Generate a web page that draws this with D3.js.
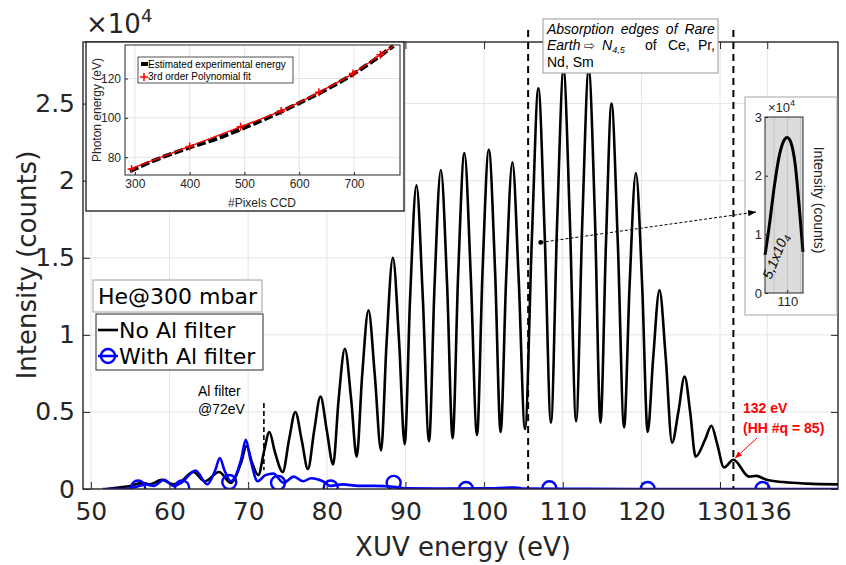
<!DOCTYPE html>
<html>
<head>
<meta charset="utf-8">
<script src="https://cdn.jsdelivr.net/npm/d3@7"></script>
<style>
  body { margin: 0; background: #fff; }
  svg { display: block; }
</style>
</head>
<body>
<svg id="svg" width="846" height="565"></svg>
<script>
// ---- main spectrum, He @ 300 mbar (intensity in units of 1e4 counts) ----
// valley / flank / peak / flank ...
const noFilterEnergy = [52, 53.5, 55, 56.5, 57.5, 59, 60.5, 61.5, 63, 64.5, 66.3, 67.8,
  69.1, 69.8, 70.5, 71.3, 72.0, 72.7, 73.4, 74.4, 75.2, 76.0, 76.8, 77.6, 78.4, 79.2, 80.0, 80.8,
  81.5, 82.3, 83.1, 83.8, 84.5, 85.3, 86.1, 86.9, 87.6, 88.4, 89.2, 89.9, 90.6, 91.4, 92.2, 93.0,
  93.7, 94.5, 95.3, 96.0, 96.7, 97.5, 98.3, 99.1, 99.8, 100.6, 101.4, 102.1, 102.8, 103.6, 104.4, 105.2,
  106.1, 106.9, 107.7, 108.5, 109.3, 110.1, 110.9, 111.7, 112.5, 113.3, 114.1, 114.8, 115.5, 116.2, 117.0, 117.8,
  118.5, 119.3, 120.1, 120.8, 121.5, 122.3, 123.1, 123.9, 124.7, 125.5, 126.2, 126.9, 128.1, 128.9, 129.6, 130.5,
  131.7, 133.7, 134.6, 135.9, 138, 141, 145];
const noFilterCounts = [0.0, 0.01, 0.02, 0.04, 0.03, 0.06, 0.03, 0.05, 0.11, 0.05, 0.11, 0.04,
  0.17, 0.28, 0.17, 0.09, 0.24, 0.37, 0.24, 0.11, 0.32, 0.50, 0.32, 0.13, 0.38, 0.60, 0.38, 0.16,
  0.58, 0.91, 0.58, 0.21, 0.74, 1.16, 0.74, 0.25, 0.95, 1.50, 0.95, 0.29, 1.25, 1.97, 1.25, 0.31,
  1.32, 2.07, 1.32, 0.33, 1.39, 2.18, 1.39, 0.35, 1.41, 2.20, 1.41, 0.37, 1.36, 2.12, 1.36, 0.39,
  1.66, 2.60, 1.66, 0.43, 1.75, 2.72, 1.75, 0.44, 1.75, 2.72, 1.75, 0.43, 1.60, 2.50, 1.60, 0.40,
  1.32, 2.05, 1.32, 0.37, 0.85, 1.29, 0.85, 0.30, 0.50, 0.73, 0.50, 0.21, 0.32, 0.41, 0.30, 0.14,
  0.19, 0.08, 0.085, 0.06, 0.045, 0.035, 0.03];

const alFilterEnergy = [51.5, 54, 55.5, 57, 58, 59.3, 60.5, 61.5, 63.3, 64.8, 65.8, 66.4, 67.0, 67.8, 69.1, 69.7, 70.3, 71.2, 72.2, 73.2,
  74.5, 75.8, 77, 78, 79.5, 80.5, 82, 84, 86, 88.5, 90, 95, 100, 104, 105, 110, 120, 130, 145];
const alFilterCounts = [0.0, 0.0, 0.01, 0.03, 0.02, 0.06, 0.02, 0.04, 0.12, 0.03, 0.12, 0.20, 0.12, 0.05, 0.19, 0.32, 0.19, 0.05, 0.09, 0.10,
  0.04, 0.08, 0.05, 0.07, 0.05, 0.02, 0.03, 0.02, 0.02, 0.015, 0.005, 0.003, 0.004, 0.01, 0.003, 0.002, 0.0, 0.0, 0.0];

const alMarkerEnergy = [56, 61.6, 67.6, 73.8, 80.5, 88.5, 97.7, 108.3, 120.8, 135.4];
const alMarkerCounts = [0.01, 0.01, 0.045, 0.04, 0.01, 0.04, 0.0, 0.005, 0.0, 0.0];

const xTicks = [50, 60, 70, 80, 90, 100, 110, 120, 130, 136];
const yTicks = [0, 0.5, 1, 1.5, 2, 2.5];
const edgeLines = [105.6, 131.7];
const filterEdge = 72;

// ---- inset: CCD pixel -> photon energy calibration ----
const ccdPixels = [291, 330, 350, 400, 450, 500, 550, 600, 650, 700, 750, 772];
const expEnergy = [73, 77.8, 80, 85, 89.5, 95, 101, 107.5, 114.5, 122.5, 132, 136.5];
const fitPixels = [291, 400, 493, 567, 636, 698, 748, 772];
const fitEnergy = [74, 85.5, 95.5, 103.5, 113, 122.5, 132, 136.5];
const fitMarkPixels = [294, 400, 493, 567, 636, 698, 748];
const fitMarkEnergy = [74, 85.5, 95.5, 103.5, 113, 122.5, 132];
const calXTicks = [300, 400, 500, 600, 700];
const calYTicks = [80, 100, 120];

// ---- inset: single harmonic around 110 eV ----
const zoomEnergy = [108.3, 108.6, 109.0, 109.4, 109.8, 110.0, 110.3, 110.6, 110.9, 111.2];
const zoomCounts = [0.65, 1.1, 1.8, 2.35, 2.62, 2.65, 2.55, 2.2, 1.5, 0.7];
const zoomXTicks = [109, 110, 111];
const zoomYTicks = [0, 1, 2, 3];

const DV = 'DejaVu Sans, sans-serif';
const AR = 'Liberation Sans, Arial, sans-serif';
const AX = '#262626';

const svg = d3.select('#svg');
const defs = svg.append('defs');

const x = d3.scaleLinear().domain([49, 145]).range([83, 838]);
const y = d3.scaleLinear().domain([0, 2.9]).range([489, 42]);

defs.append('clipPath').attr('id', 'plotClip')
  .append('rect').attr('x', 83).attr('y', 42).attr('width', 755).attr('height', 447);

// grid
const grid = svg.append('g').attr('stroke', '#e4e4e4').attr('stroke-width', 1);
grid.selectAll('.gx').data(xTicks).enter().append('line')
  .attr('x1', d => x(d)).attr('x2', d => x(d)).attr('y1', y(2.9)).attr('y2', y(0));
grid.selectAll('.gy').data(yTicks).enter().append('line')
  .attr('x1', x(49)).attr('x2', x(145)).attr('y1', d => y(d)).attr('y2', d => y(d));

// curves
const plot = svg.append('g').attr('clip-path', 'url(#plotClip)');
const line = d3.line().x(d => x(d[0])).y(d => y(d[1])).curve(d3.curveMonotoneX);

plot.append('path')
  .datum(d3.zip(noFilterEnergy, noFilterCounts))
  .attr('d', line).attr('fill', 'none').attr('stroke', '#000').attr('stroke-width', 2.6);

plot.append('path')
  .datum(d3.zip(alFilterEnergy, alFilterCounts))
  .attr('d', line).attr('fill', 'none').attr('stroke', '#0000ff').attr('stroke-width', 2.6);

plot.selectAll('.mk').data(d3.zip(alMarkerEnergy, alMarkerCounts)).enter().append('circle')
  .attr('cx', d => x(d[0])).attr('cy', d => y(d[1])).attr('r', 7)
  .attr('fill', 'none').attr('stroke', '#0000ff').attr('stroke-width', 2.4);

// dashed edges
svg.selectAll('.edge').data(edgeLines).enter().append('line')
  .attr('x1', d => x(d)).attr('x2', d => x(d)).attr('y1', 30).attr('y2', y(0))
  .attr('stroke', '#000').attr('stroke-width', 2).attr('stroke-dasharray', '7,5');
svg.append('line')
  .attr('x1', x(filterEdge)).attr('x2', x(filterEdge)).attr('y1', 403).attr('y2', 470)
  .attr('stroke', '#000').attr('stroke-width', 1.6).attr('stroke-dasharray', '5,3');

// axes
function styleAxis(g, size) {
  g.attr('font-family', DV).attr('font-size', size);
  g.select('.domain').remove();
  g.selectAll('line').attr('stroke', AX);
  g.selectAll('text').attr('fill', AX);
}
svg.append('g').attr('transform', `translate(0,${y(0)})`)
  .call(d3.axisBottom(x).tickValues(xTicks).tickSizeInner(-7).tickSizeOuter(0).tickPadding(13))
  .call(g => styleAxis(g, 25));
svg.append('g').attr('transform', `translate(0,${y(2.9)})`)
  .call(d3.axisTop(x).tickValues(xTicks).tickSizeInner(-7).tickSizeOuter(0).tickFormat(''))
  .call(g => styleAxis(g, 25));
svg.append('g').attr('transform', `translate(${x(49)},0)`)
  .call(d3.axisLeft(y).tickValues(yTicks).tickSizeInner(-7).tickSizeOuter(0).tickPadding(8).tickFormat(d3.format('')))
  .call(g => styleAxis(g, 25));
svg.append('g').attr('transform', `translate(${x(145)},0)`)
  .call(d3.axisRight(y).tickValues(yTicks).tickSizeInner(-7).tickSizeOuter(0).tickFormat(''))
  .call(g => styleAxis(g, 25));
svg.append('rect').attr('x', 83).attr('y', 42).attr('width', 755).attr('height', 447)
  .attr('fill', 'none').attr('stroke', AX).attr('stroke-width', 1.4);

const exp = svg.append('text').attr('x', 86).attr('y', 33).attr('font-family', DV).attr('font-size', 26).attr('fill', AX);
exp.append('tspan').text('\u00d710');
exp.append('tspan').attr('font-size', 18).attr('dy', -11).text('4');

svg.append('text').attr('x', 463).attr('y', 556).attr('text-anchor', 'middle')
  .attr('font-family', DV).attr('font-size', 26).attr('fill', AX).text('XUV energy (eV)');
svg.append('text').attr('transform', 'translate(36,265) rotate(-90)').attr('text-anchor', 'middle')
  .attr('font-family', DV).attr('font-size', 26).attr('fill', AX).text('Intensity (counts)');

// ---- legend ----
svg.append('rect').attr('x', 93).attr('y', 280).attr('width', 169).attr('height', 32)
  .attr('fill', '#fff').attr('stroke', '#a0a0a0').attr('stroke-width', 1);
svg.append('text').attr('x', 98).attr('y', 304).attr('font-family', DV).attr('font-size', 22).attr('fill', '#000')
  .text('He@300 mbar');
svg.append('rect').attr('x', 96).attr('y', 314).attr('width', 167).attr('height', 56)
  .attr('fill', '#fff').attr('stroke', AX).attr('stroke-width', 1);
svg.append('line').attr('x1', 98).attr('x2', 118).attr('y1', 330).attr('y2', 330).attr('stroke', '#000').attr('stroke-width', 2.6);
svg.append('text').attr('x', 119).attr('y', 338).attr('font-family', DV).attr('font-size', 22).text('No Al filter');
svg.append('line').attr('x1', 98).attr('x2', 118).attr('y1', 356).attr('y2', 356).attr('stroke', '#0000ff').attr('stroke-width', 2.6);
svg.append('circle').attr('cx', 108).attr('cy', 356).attr('r', 7).attr('fill', 'none').attr('stroke', '#0000ff').attr('stroke-width', 2.4);
svg.append('text').attr('x', 119).attr('y', 364).attr('font-family', DV).attr('font-size', 22).text('With Al filter');

// ---- annotations ----
const alTxt = svg.append('text').attr('font-family', AR).attr('font-size', 14).attr('fill', '#000');
alTxt.append('tspan').attr('x', 198).attr('y', 396).text('Al filter');
alTxt.append('tspan').attr('x', 198).attr('y', 414).text('@72eV');

const hh = svg.append('text').attr('font-family', AR).attr('font-size', 14).attr('font-weight', 'bold').attr('fill', '#ff0000');
hh.append('tspan').attr('x', 743).attr('y', 413).text('132 eV');
hh.append('tspan').attr('x', 743).attr('y', 433).text('(HH #q = 85)');

defs.append('marker').attr('id', 'arrRed').attr('viewBox', '0 0 10 10').attr('refX', 10).attr('refY', 5)
  .attr('markerWidth', 7).attr('markerHeight', 7).attr('orient', 'auto')
  .append('path').attr('d', 'M0,1 L10,5 L0,9 z').attr('fill', '#ff0000');
defs.append('marker').attr('id', 'arrBlk').attr('viewBox', '0 0 10 10').attr('refX', 10).attr('refY', 5)
  .attr('markerWidth', 8).attr('markerHeight', 8).attr('orient', 'auto')
  .append('path').attr('d', 'M0,1 L10,5 L0,9 z').attr('fill', '#000');

svg.append('line').attr('x1', 757).attr('y1', 438).attr('x2', x(131.9)).attr('y2', y(0.2))
  .attr('stroke', '#ff0000').attr('stroke-width', 1).attr('marker-end', 'url(#arrRed)');

// absorption edge box
svg.append('rect').attr('x', 543).attr('y', 19).attr('width', 175).attr('height', 54)
  .attr('fill', '#fff').attr('stroke', '#999').attr('stroke-width', 1);
svg.append('text').attr('x', 547).attr('y', 34).attr('font-family', AR).attr('font-size', 14).attr('font-style', 'italic')
  .attr('word-spacing', 3).text('Absorption edges of Rare');
svg.append('text').attr('x', 547).attr('y', 50).attr('font-family', AR).attr('font-size', 14).attr('font-style', 'italic').text('Earth');
svg.append('text').attr('x', 584).attr('y', 50).attr('font-family', DV).attr('font-size', 13).attr('fill', '#333').text('\u21e8');
const nSub = svg.append('text').attr('x', 602).attr('y', 50).attr('font-family', AR).attr('font-size', 14).attr('font-style', 'italic');
nSub.append('tspan').text('N');
nSub.append('tspan').attr('font-size', 9).attr('dy', 3).text('4,5');
svg.append('text').attr('x', 645).attr('y', 50).attr('font-family', AR).attr('font-size', 14).text('of');
svg.append('text').attr('x', 668).attr('y', 50).attr('font-family', AR).attr('font-size', 14).text('Ce,');
svg.append('text').attr('x', 715).attr('y', 50).attr('text-anchor', 'end').attr('font-family', AR).attr('font-size', 14).text('Pr,');
svg.append('text').attr('x', 547).attr('y', 67).attr('font-family', AR).attr('font-size', 14).text('Nd, Sm');

// ---- inset 1: calibration ----
svg.append('rect').attr('x', 86).attr('y', 42).attr('width', 318).attr('height', 169)
  .attr('fill', '#fff').attr('stroke', AX).attr('stroke-width', 1.4);
const cx = d3.scaleLinear().domain([282, 784]).range([125, 400]);
const cy = d3.scaleLinear().domain([71, 137]).range([175, 45]);
const cg = svg.append('g');
cg.selectAll('.cgx').data(calXTicks).enter().append('line')
  .attr('x1', d => cx(d)).attr('x2', d => cx(d)).attr('y1', 45).attr('y2', 175).attr('stroke', '#e4e4e4');
cg.selectAll('.cgy').data(calYTicks).enter().append('line')
  .attr('x1', 125).attr('x2', 400).attr('y1', d => cy(d)).attr('y2', d => cy(d)).attr('stroke', '#e4e4e4');
const cLine = d3.line().x(d => cx(d[0])).y(d => cy(d[1])).curve(d3.curveMonotoneX);
cg.append('path').datum(d3.zip(ccdPixels, expEnergy)).attr('d', cLine)
  .attr('fill', 'none').attr('stroke', '#000').attr('stroke-width', 4).attr('stroke-dasharray', '9,3');
cg.append('path').datum(d3.zip(fitPixels, fitEnergy)).attr('d', cLine)
  .attr('fill', 'none').attr('stroke', '#ff0000').attr('stroke-width', 1.4);
cg.selectAll('.plus').data(d3.zip(fitMarkPixels, fitMarkEnergy)).enter().append('path')
  .attr('d', d => `M${cx(d[0]) - 4},${cy(d[1])}h8M${cx(d[0])},${cy(d[1]) - 4}v8`)
  .attr('stroke', '#ff0000').attr('stroke-width', 1.5);
cg.append('g').attr('transform', 'translate(0,175)')
  .call(d3.axisBottom(cx).tickValues(calXTicks).tickSizeInner(-3).tickSizeOuter(0).tickPadding(4))
  .call(g => { styleAxis(g, 12); g.attr('font-family', AR); });
cg.append('g').attr('transform', 'translate(125,0)')
  .call(d3.axisLeft(cy).tickValues(calYTicks).tickSizeInner(-3).tickSizeOuter(0).tickPadding(4))
  .call(g => { styleAxis(g, 12); g.attr('font-family', AR); });
cg.append('rect').attr('x', 125).attr('y', 45).attr('width', 275).attr('height', 130)
  .attr('fill', 'none').attr('stroke', AX).attr('stroke-width', 1);
cg.append('text').attr('x', 262).attr('y', 207).attr('text-anchor', 'middle')
  .attr('font-family', AR).attr('font-size', 12).attr('fill', AX).text('#Pixels CCD');
cg.append('text').attr('transform', 'translate(101,110) rotate(-90)').attr('text-anchor', 'middle')
  .attr('font-family', AR).attr('font-size', 12).attr('fill', AX).text('Photon energy (eV)');
// inset legend
cg.append('rect').attr('x', 138).attr('y', 57).attr('width', 155).attr('height', 26)
  .attr('fill', '#fff').attr('stroke', AX).attr('stroke-width', 0.8);
cg.append('line').attr('x1', 141).attr('x2', 148).attr('y1', 64).attr('y2', 64).attr('stroke', '#000').attr('stroke-width', 4);
cg.append('text').attr('x', 148).attr('y', 68).attr('font-family', AR).attr('font-size', 10).text('Estimated experimental energy');
cg.append('path').attr('d', 'M140,77h8M144,73v8').attr('stroke', '#ff0000').attr('stroke-width', 1.5);
cg.append('text').attr('x', 148).attr('y', 80).attr('font-family', AR).attr('font-size', 10).text('3rd order Polynomial fit');

// ---- inset 2: zoom on harmonic near 110 eV ----
svg.append('rect').attr('x', 745).attr('y', 97).attr('width', 92).attr('height', 218)
  .attr('fill', '#fff').attr('stroke', '#a6a6a6').attr('stroke-width', 1);
const zx = d3.scaleLinear().domain([108.3, 111.2]).range([765, 803]);
const zy = d3.scaleLinear().domain([0, 3]).range([293, 117]);
const zg = svg.append('g');
zg.append('rect').attr('x', 765).attr('y', 117).attr('width', 38).attr('height', 176).attr('fill', '#dcdcdc');
zg.selectAll('.zgx').data(zoomXTicks).enter().append('line')
  .attr('x1', d => zx(d)).attr('x2', d => zx(d)).attr('y1', 117).attr('y2', 293)
  .attr('stroke', '#c4c4c4').attr('stroke-width', 1);
zg.append('path').datum(d3.zip(zoomEnergy, zoomCounts))
  .attr('d', d3.line().x(d => zx(d[0])).y(d => zy(d[1])).curve(d3.curveMonotoneX))
  .attr('fill', 'none').attr('stroke', '#000').attr('stroke-width', 3);
zg.append('g').attr('transform', 'translate(0,293)')
  .call(d3.axisBottom(zx).tickValues([110]).tickSizeInner(-3).tickSizeOuter(0).tickPadding(4).tickFormat(d3.format('d')))
  .call(g => { styleAxis(g, 13); g.attr('font-family', AR); });
zg.append('g').attr('transform', 'translate(765,0)')
  .call(d3.axisLeft(zy).tickValues(zoomYTicks).tickSizeInner(-3).tickSizeOuter(0).tickPadding(3).tickFormat(d3.format('d')))
  .call(g => { styleAxis(g, 13); g.attr('font-family', AR); });
zg.append('rect').attr('x', 765).attr('y', 117).attr('width', 38).attr('height', 176)
  .attr('fill', 'none').attr('stroke', AX).attr('stroke-width', 1);
const zexp = zg.append('text').attr('x', 768).attr('y', 112).attr('font-family', AR).attr('font-size', 13).attr('fill', AX);
zexp.append('tspan').text('\u00d710');
zexp.append('tspan').attr('font-size', 9).attr('dy', -6).text('4');
zg.append('text').attr('transform', 'translate(814,200) rotate(90)').attr('text-anchor', 'middle')
  .attr('font-family', AR).attr('font-size', 14).attr('fill', AX).text('Intensity (counts)');
const zlab = zg.append('text').attr('transform', 'translate(780,258) rotate(-68)').attr('text-anchor', 'middle')
  .attr('font-family', AR).attr('font-size', 14).attr('font-style', 'italic').attr('fill', '#000');
zlab.append('tspan').text('5,1x10');
zlab.append('tspan').attr('font-size', 10).attr('dy', 3).text('4');

// dotted pointer to the zoom inset
svg.append('circle').attr('cx', x(107.2)).attr('cy', y(1.6)).attr('r', 2.4).attr('fill', '#000');
svg.append('line').attr('x1', x(107.2)).attr('y1', y(1.6)).attr('x2', 756).attr('y2', 212)
  .attr('stroke', '#000').attr('stroke-width', 1).attr('stroke-dasharray', '3,2').attr('marker-end', 'url(#arrBlk)');
</script>
</body>
</html>
